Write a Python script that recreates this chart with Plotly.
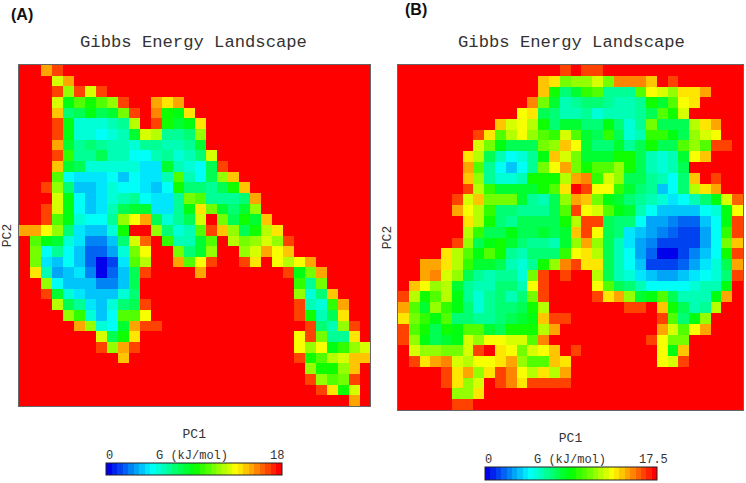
import plotly.graph_objects as go

W, H = 746, 483
MONO = "Liberation Mono, Courier New, monospace"
TITLE = "Gibbs Energy Landscape"
X_LABEL = "PC1"
Y_LABEL = "PC2"
CBAR_LABEL = "G (kJ/mol)"
G_MAX_A = 18
G_MAX_B = 17.5
TICKS_A = ["0", "18"]
TICKS_B = ["0", "17.5"]

# colour level of every cell (0 = lowest G, 31 = highest G)
LEVELS_A = [
[31,31,26,29,31,31,31,31,31,31,31,31,31,31,31,31,31,31,31,31,31,31,31,31,31,31,31,31,31,31,31,31],
[31,31,31,22,26,31,31,31,31,31,31,31,31,31,31,31,31,31,31,31,31,31,31,31,31,31,31,31,31,31,31,31],
[31,31,31,29,20,29,22,29,31,31,31,31,31,31,31,31,31,31,31,31,31,31,31,31,31,31,31,31,31,31,31,31],
[31,31,31,22,15,18,16,18,20,29,31,31,26,24,26,31,31,31,31,31,31,31,31,31,31,31,31,31,31,31,31,31],
[31,31,31,25,12,13,15,13,14,19,29,31,27,16,15,24,31,31,31,31,31,31,31,31,31,31,31,31,31,31,31,31],
[31,31,31,29,15,9,9,9,10,11,21,31,29,16,14,15,24,31,31,31,31,31,31,31,31,31,31,31,31,31,31,31],
[31,31,31,29,15,9,9,8,9,10,14,22,21,11,11,12,20,31,31,31,31,31,31,31,31,31,31,31,31,31,31,31],
[31,31,31,26,14,11,12,11,10,10,9,11,11,10,10,11,14,31,31,31,31,31,31,31,31,31,31,31,31,31,31,31],
[31,31,31,29,17,11,11,13,10,10,8,8,10,11,9,10,12,22,31,31,31,31,31,31,31,31,31,31,31,31,31,31],
[31,31,31,25,14,13,9,9,9,9,9,7,7,14,10,9,8,13,29,31,31,31,31,31,31,31,31,31,31,31,31,31],
[31,31,31,18,8,7,7,7,8,6,8,7,7,10,18,10,8,13,20,25,31,31,31,31,31,31,31,31,31,31,31,31],
[31,31,29,20,12,6,6,7,9,8,8,7,6,8,16,12,12,11,13,16,25,31,31,31,31,31,31,31,31,31,31,31],
[31,31,31,22,15,8,6,7,9,10,11,8,7,7,11,19,18,11,11,11,12,26,31,31,31,31,31,31,31,31,31,31],
[31,31,29,22,15,8,6,7,10,13,14,14,7,7,11,15,24,19,14,12,14,20,31,31,31,31,31,31,31,31,31,31],
[31,31,29,18,15,9,8,8,11,20,23,26,13,9,11,13,22,31,19,13,16,14,25,31,31,31,31,31,31,31,31,31],
[26,26,23,20,12,7,6,6,9,16,31,31,20,12,9,10,18,29,25,20,13,16,21,24,31,31,31,31,31,31,31,31],
[31,18,15,14,9,7,4,4,6,12,22,28,31,17,10,10,14,18,31,21,19,20,22,20,29,31,31,31,31,31,31,31],
[31,19,8,11,8,6,3,3,5,9,19,23,31,31,19,12,14,20,31,31,20,22,26,23,25,31,31,31,31,31,31,31],
[31,19,7,6,8,6,3,0,2,7,18,21,31,31,26,18,23,29,31,31,29,24,31,23,21,23,26,31,31,31,31,31],
[31,24,10,5,6,7,4,0,3,6,13,29,31,31,31,31,26,31,31,31,31,31,31,31,29,15,19,26,31,31,31,31],
[31,31,20,8,6,6,6,4,4,6,13,31,31,31,31,31,31,31,31,31,31,31,31,31,31,17,11,19,31,31,31,31],
[31,31,29,14,9,7,6,6,6,9,12,31,31,31,31,31,31,31,31,31,31,31,31,31,31,20,9,12,25,31,31,31],
[31,31,31,21,13,11,7,6,9,12,13,29,31,31,31,31,31,31,31,31,31,31,31,31,31,29,10,9,17,26,31,31],
[31,31,31,31,20,17,9,6,8,18,18,23,31,31,31,31,31,31,31,31,31,31,31,31,31,29,16,10,13,24,31,31],
[31,31,31,31,31,26,20,9,8,14,26,29,29,31,31,31,31,31,31,31,31,31,31,31,31,31,29,12,10,20,29,31],
[31,31,31,31,31,31,31,22,13,16,24,31,31,31,31,31,31,31,31,31,31,31,31,31,31,23,29,19,11,11,24,31],
[31,31,31,31,31,31,31,29,20,26,29,31,31,31,31,31,31,31,31,31,31,31,31,31,31,23,20,23,15,17,20,22],
[31,31,31,31,31,31,31,31,31,25,31,31,31,31,31,31,31,31,31,31,31,31,31,31,31,29,16,18,21,22,25,25],
[31,31,31,31,31,31,31,31,31,31,31,31,31,31,31,31,31,31,31,31,31,31,31,31,31,31,20,16,16,20,25,31],
[31,31,31,31,31,31,31,31,31,31,31,31,31,31,31,31,31,31,31,31,31,31,31,31,31,31,29,20,18,19,29,31],
[31,31,31,31,31,31,31,31,31,31,31,31,31,31,31,31,31,31,31,31,31,31,31,31,31,31,31,29,24,16,22,31],
[31,31,31,31,31,31,31,31,31,31,31,31,31,31,31,31,31,31,31,31,31,31,31,31,31,31,31,31,31,31,26,31],
]

LEVELS_B = [
[31,31,31,31,31,31,31,31,31,31,31,31,31,31,31,29,31,29,29,31,31,31,31,31,31,31,31,31,31,31,31,31],
[31,31,31,31,31,31,31,31,31,31,31,31,31,25,24,19,20,20,22,19,27,27,27,25,31,29,31,31,31,31,31,31],
[31,31,31,31,31,31,31,31,31,31,31,31,31,25,16,12,14,17,18,11,11,11,18,23,22,20,24,24,26,31,31,31],
[31,31,31,31,31,31,31,31,31,31,31,31,27,19,14,10,11,12,12,11,10,10,11,16,14,18,23,24,31,31,31,31],
[31,31,31,31,31,31,31,31,31,31,31,23,24,13,12,10,10,11,9,10,10,10,11,13,18,16,22,31,31,31,31,31],
[31,31,31,31,31,31,31,31,31,25,22,23,21,16,12,14,14,12,12,15,12,9,11,19,13,13,13,21,24,26,31,31],
[31,31,31,31,31,31,31,29,24,18,21,23,20,18,17,22,18,14,13,17,13,9,10,17,17,15,13,20,22,23,31,31],
[31,31,31,31,31,31,31,22,19,15,13,13,13,19,20,25,23,14,12,12,14,11,13,16,13,13,18,20,18,29,29,31],
[31,31,31,31,31,31,24,21,13,10,8,9,11,15,25,22,19,14,14,14,16,16,13,10,9,10,14,23,25,31,31,31],
[31,31,31,31,31,31,26,18,11,8,6,8,11,19,23,26,19,16,18,18,20,16,13,10,9,10,13,31,31,31,31,31],
[31,31,31,31,31,31,25,20,11,9,9,10,16,16,16,21,26,27,17,22,20,13,13,11,10,8,12,25,31,29,31,31],
[31,31,31,31,31,31,29,21,17,14,14,14,14,16,18,24,31,29,23,23,17,14,12,11,6,8,12,21,24,26,31,31],
[31,31,31,31,31,29,22,25,19,19,19,14,11,10,13,20,26,25,19,15,14,12,11,10,9,7,8,10,12,15,22,28],
[31,31,31,31,31,26,23,21,17,12,12,11,11,11,13,18,29,23,22,18,15,14,10,8,6,6,6,6,8,9,15,23],
[31,31,31,31,31,31,24,21,16,12,11,13,13,13,13,16,21,29,29,13,12,12,8,5,5,4,3,3,6,8,15,29],
[31,31,31,31,31,31,21,17,13,13,15,13,13,14,13,14,25,29,23,13,12,7,6,5,4,3,2,2,5,8,17,29],
[31,31,31,31,31,29,20,13,15,16,14,12,11,11,10,14,20,26,20,13,10,7,5,4,2,2,2,2,5,8,19,25],
[31,31,31,31,24,21,18,15,18,16,11,10,12,12,12,17,23,24,21,13,10,8,5,3,0,0,2,4,6,8,16,29],
[31,31,26,26,24,21,17,14,14,13,10,9,11,16,20,27,29,24,24,13,10,8,6,2,2,2,3,5,7,9,13,26],
[31,31,26,27,22,20,13,11,10,11,11,9,19,29,31,29,31,31,21,13,10,9,7,6,5,5,6,7,8,9,12,29],
[31,25,23,20,21,14,11,10,10,12,12,10,23,29,31,31,31,31,23,18,13,12,10,8,8,8,8,9,10,10,15,31],
[29,21,16,18,21,15,11,9,11,12,10,12,19,29,31,31,31,31,29,24,26,20,14,15,18,13,10,10,10,15,26,31],
[26,18,14,20,17,15,12,9,11,12,12,13,16,21,31,31,31,31,31,31,31,29,29,31,25,16,13,10,11,21,31,31],
[24,19,17,15,18,12,12,11,11,12,13,14,15,25,29,29,31,31,31,31,31,31,31,31,29,18,12,15,20,31,31,31],
[29,18,16,13,16,15,18,18,14,13,16,16,16,21,26,31,31,31,31,31,31,31,31,31,26,22,18,23,26,31,31,31],
[29,20,15,13,14,15,22,20,23,23,22,22,18,27,31,31,31,31,31,31,31,31,31,29,23,19,19,31,31,31,31,31],
[31,22,20,20,19,19,22,29,31,24,23,19,22,23,25,31,29,31,31,31,31,31,31,31,23,15,25,31,31,31,31,31],
[31,29,24,26,27,22,21,23,23,24,26,20,18,18,25,24,31,31,31,31,31,31,31,31,23,22,29,31,31,31,31,31],
[31,31,31,31,29,24,26,20,24,29,27,23,21,24,21,26,31,31,31,31,31,31,31,31,31,31,31,31,31,31,31,31],
[31,31,31,31,29,24,20,22,31,29,27,24,29,29,29,29,31,31,31,31,31,31,31,31,31,31,31,31,31,31,31,31],
[31,31,31,31,31,20,20,24,31,31,31,31,31,31,31,31,31,31,31,31,31,31,31,31,31,31,31,31,31,31,31,31],
[31,31,31,31,31,29,29,31,31,31,31,31,31,31,31,31,31,31,31,31,31,31,31,31,31,31,31,31,31,31,31,31],
]

assert all(len(r) == 32 for r in LEVELS_A + LEVELS_B), [len(r) for r in LEVELS_A + LEVELS_B]
N_LEVELS = 32
STOPS = [(0.0, (0, 0, 235)), (0.25, (0, 255, 255)), (0.5, (0, 255, 0)),
         (0.75, (255, 255, 0)), (1.0, (255, 0, 0))]


def level_colour(t):
    for (t0, c0), (t1, c1) in zip(STOPS, STOPS[1:]):
        if t <= t1:
            f = (t - t0) / (t1 - t0)
            return "rgb(%d,%d,%d)" % tuple(round(a + (b - a) * f) for a, b in zip(c0, c1))
    return "rgb(255,0,0)"


colorscale = []
for l in range(N_LEVELS):
    col = level_colour(l / (N_LEVELS - 1))
    colorscale += [[l / N_LEVELS, col], [(l + 1) / N_LEVELS, col]]


def px_x(p):
    return p / W


def px_y(p):
    return 1 - p / H


def panel(levels, gmax, xname, yname, cb_left, cb_right, cb_bottom, cb_thick):
    z = [[(v + 0.5) * gmax / N_LEVELS for v in row] for row in levels]
    return go.Heatmap(
        z=z, xaxis=xname, yaxis=yname, zmin=0, zmax=gmax, colorscale=colorscale,
        hovertemplate="G=%{z:.1f}<extra></extra>",
        colorbar=dict(
            orientation="h", x=px_x(cb_left), xanchor="left", y=px_y(cb_bottom), yanchor="bottom",
            lenmode="pixels", len=cb_right - cb_left, thickness=cb_thick, thicknessmode="pixels",
            xpad=0, ypad=0, outlinecolor="#222", outlinewidth=1, borderwidth=0,
            ticks="", showticklabels=False,
        ),
    )


fig = go.Figure()
fig.add_trace(panel(LEVELS_A, G_MAX_A, "x", "y", 106, 282, 476, 12))
fig.add_trace(panel(LEVELS_B, G_MAX_B, "x2", "y2", 485, 657, 481, 13))

frame = dict(showline=True, mirror=True, linecolor="#666", linewidth=1, showgrid=False,
             zeroline=False, showticklabels=False, ticks="", range=[-0.5, 31.5])
title_font = dict(family=MONO, size=13, color="#333")
fig.update_layout(
    width=W, height=H, margin=dict(l=0, r=0, t=0, b=0, autoexpand=False),
    paper_bgcolor="white", plot_bgcolor="white", showlegend=False,
    xaxis=dict(frame, domain=[px_x(18.5), px_x(370)],
               title=dict(text=X_LABEL, font=title_font, standoff=22)),
    yaxis=dict(frame, domain=[px_y(406), px_y(65)], range=[31.5, -0.5],
               title=dict(text=Y_LABEL, font=title_font, standoff=4)),
    xaxis2=dict(frame, domain=[px_x(398), px_x(743)], anchor="y2",
                title=dict(text=X_LABEL, font=title_font, standoff=22)),
    yaxis2=dict(frame, domain=[px_y(410), px_y(65)], range=[31.5, -0.5], anchor="x2",
                title=dict(text=Y_LABEL, font=title_font, standoff=2)),
)


def note(x, y, text, family=MONO, size=12, color="#333", bold=False):
    fig.add_annotation(xref="paper", yref="paper", x=px_x(x), y=px_y(y), text=f"<b>{text}</b>" if bold else text,
                       showarrow=False, font=dict(family=family, size=size, color=color),
                       xanchor="center", yanchor="middle")


note(193, 43, TITLE, size=17.2)
note(571, 43, TITLE, size=17.2)
note(192, 456, CBAR_LABEL)
note(570, 460, CBAR_LABEL)
note(110, 456, TICKS_A[0])
note(277, 456, TICKS_A[1])
note(488, 460, TICKS_B[0])
note(653, 460, TICKS_B[1])
note(22, 14, "(A)", family="Liberation Sans", size=16, color="#111", bold=True)
note(416, 9, "(B)", family="Liberation Sans", size=16, color="#111", bold=True)

fig.write_html("out.html", config={"displayModeBar": False},
               post_script="document.body.style.margin='0';")
